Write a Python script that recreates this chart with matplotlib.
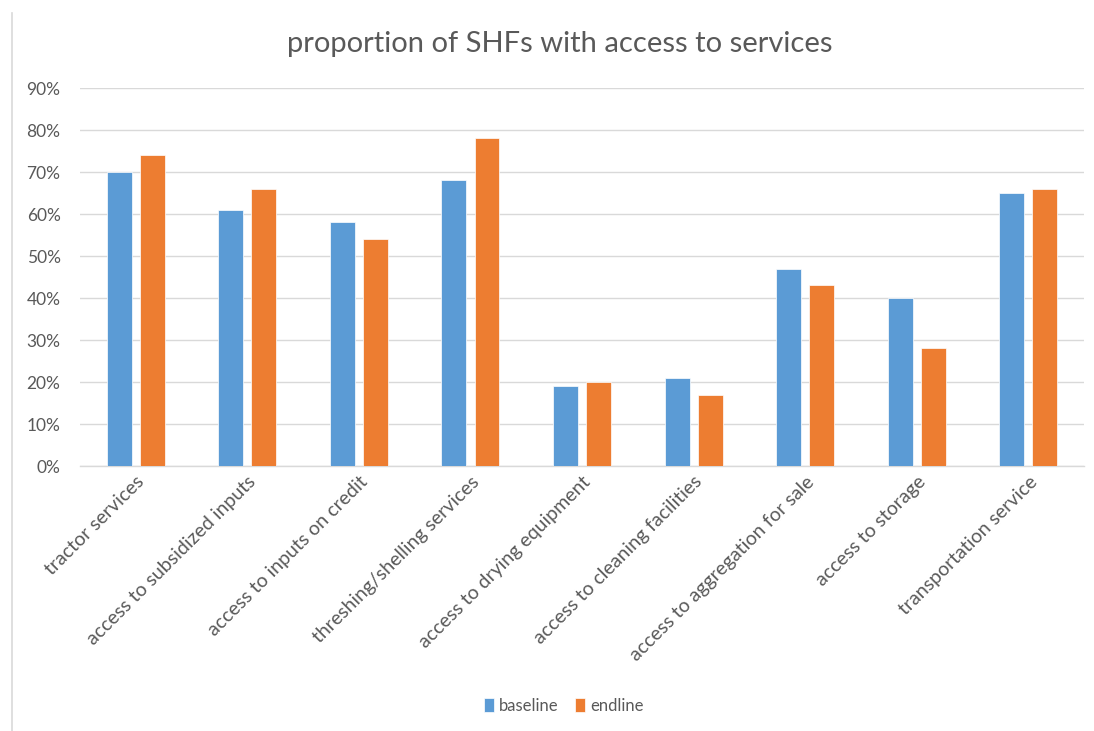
import numpy as np
import matplotlib
matplotlib.use("Agg")
import matplotlib.pyplot as plt
from matplotlib.lines import Line2D
from matplotlib.ticker import FuncFormatter

plt.rcParams['font.family'] = ['Lato', 'DejaVu Sans']

categories = ["tractor services", "access to subsidized inputs", "access to inputs on credit",
              "threshing/shelling services", "access to drying equipment",
              "access to cleaning facilities", "access to aggregation for sale",
              "access to storage", "transportation service"]
baseline = [0.70, 0.61, 0.58, 0.68, 0.19, 0.21, 0.47, 0.40, 0.65]
endline = [0.74, 0.66, 0.54, 0.78, 0.20, 0.17, 0.43, 0.28, 0.66]
yticks = [0, 0.1, 0.2, 0.3, 0.4, 0.5, 0.6, 0.7, 0.8, 0.9]

blue = '#5B9BD5'
orange = '#ED7D31'
txt = '#595959'

fig = plt.figure(figsize=(10.94, 7.31), dpi=100)
ax = fig.add_axes([0.0731, 0.3625, 0.9179, 0.5171])

x = np.arange(len(categories))
w = 0.224
ax.bar(x - 0.148, baseline, w, color=blue, edgecolor='white', linewidth=0.5, label='baseline', zorder=3)
ax.bar(x + 0.148, endline, w, color=orange, edgecolor='white', linewidth=0.5, label='endline', zorder=3)

ax.set_xlim(-0.5, len(categories) - 0.5)
ax.set_ylim(0, 0.9)
ax.set_yticks(yticks)
ax.yaxis.set_major_formatter(FuncFormatter(lambda v, p: '%d%%' % round(v * 100)))
ax.grid(axis='y', color='#D9D9D9', linewidth=1.0, zorder=0)
ax.tick_params(axis='y', length=0, labelsize=12.5, labelcolor=txt, pad=14)
ax.tick_params(axis='x', length=0, labelsize=14, labelcolor=txt, pad=5)
ax.set_xticks(x)
ax.set_xticklabels(categories, rotation=45, ha='right', rotation_mode='anchor')
for lab in ax.get_xticklabels():
    lab.set_x(lab.get_position()[0] + 0.15)
for s in ['top', 'right', 'left']:
    ax.spines[s].set_visible(False)
ax.spines['bottom'].set_color('#D9D9D9')
ax.spines['bottom'].set_linewidth(1.0)

fig.text(0.512, 0.94, 'proportion of SHFs with access to services', ha='center', va='center',
         fontsize=21, color=txt)

fig.legend(loc='center', bbox_to_anchor=(0.515, 0.034), ncol=2, frameon=False,
           fontsize=12, handlelength=0.6, handleheight=0.9, handletextpad=0.3,
           columnspacing=1.0, labelcolor=txt)

fig.add_artist(Line2D([12 / 1094, 12 / 1094], [0, 1 - 13 / 731], transform=fig.transFigure,
                      color='#D9D9D9', linewidth=1.2))

fig.savefig('out.png', dpi=100)
